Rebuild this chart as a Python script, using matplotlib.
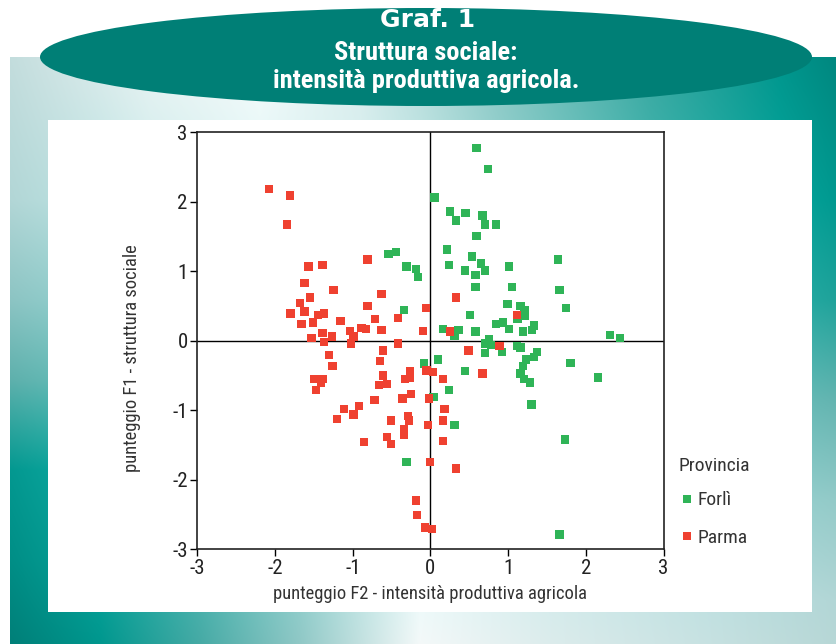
import numpy as np
import matplotlib
matplotlib.use("Agg")
import matplotlib.pyplot as plt
import matplotlib.font_manager as fm
from matplotlib.patches import Ellipse, Rectangle
from matplotlib.lines import Line2D
from matplotlib.colors import to_rgb

# ---------------- data ----------------
series_names = ["Forlì", "Parma"]
series_colors = ["#2fb457", "#ef4130"]

forli_x = [0.59, 0.74, 0.05, 0.25, 0.45, 0.33, 0.67, 0.70, 0.84, 0.59, 0.21, 0.53, 1.64, 0.24, 0.65,
           1.01, 0.44, 0.70, 0.58, 0.58, 1.05, 1.66, 1.74, 0.99, 1.16, 1.21, 1.21, 1.12, 0.51, 0.84,
           0.93, 1.01, 0.16, 0.36, 0.58, 1.19, 1.31, 1.33, 0.31, 0.75, 2.31, 2.44, -0.54, -0.44, -0.31,
           -0.19, -0.16, -0.34, -0.08, -0.31, 0.04, 0.70, 0.78, 0.70, 0.92, 1.11, 1.16, 1.37, 1.33,
           1.23, 1.19, 1.80, 1.16, 1.20, 1.28, 2.16, 0.10, 0.44, 0.24, 1.30, 0.31, 1.73, 1.66]
forli_y = [2.77, 2.47, 2.06, 1.86, 1.84, 1.73, 1.80, 1.67, 1.67, 1.51, 1.31, 1.21, 1.17, 1.09, 1.11,
           1.07, 1.01, 1.01, 0.95, 0.77, 0.77, 0.73, 0.47, 0.53, 0.50, 0.44, 0.36, 0.31, 0.37, 0.24,
           0.26, 0.17, 0.17, 0.15, 0.13, 0.13, 0.15, 0.22, 0.07, 0.02, 0.08, 0.04, 1.25, 1.28, 1.07,
           1.03, 0.92, 0.44, -0.33, -1.75, -0.81, -0.04, -0.06, -0.18, -0.16, -0.08, -0.10, -0.16, -0.23,
           -0.27, -0.36, -0.32, -0.47, -0.55, -0.60, -0.53, -0.27, -0.44, -0.71, -0.92, -1.21, -1.42, -2.79]

parma_x = [-2.08, -1.81, -1.85, -1.57, -1.39, -0.81, -1.62, -1.25, -0.63, -1.55, -1.68, -0.81, -0.06,
           -0.42, -1.80, -1.62, -1.45, -1.37, -1.66, -1.51, -1.16, -0.71, -1.04, -0.89, -0.83, -0.63,
           -0.10, -1.39, -1.27, -1.53, -0.99, 0.33, 1.11, 0.25, -1.37, -1.02, -0.42, -0.61, -1.31, -1.26,
           -0.65, -0.05, 0.03, -1.50, -1.39, -1.41, -1.47, -0.61, -0.26, -0.26, -0.33, -0.66, -0.56,
           -0.36, -0.25, -0.02, -0.72, -0.92, -1.11, -0.99, -1.20, -0.51, -0.29, -0.28, -0.03, -0.34,
           -0.34, -0.56, -0.51, -0.86, -0.01, -0.19, -0.17, -0.07, 0.02, 0.49, 0.89, 0.16, 0.67, 0.18,
           0.16, 0.16, 0.33]
parma_y = [2.18, 2.09, 1.67, 1.07, 1.09, 1.17, 0.83, 0.73, 0.67, 0.62, 0.54, 0.50, 0.47, 0.33, 0.39,
           0.42, 0.37, 0.39, 0.24, 0.26, 0.28, 0.31, 0.14, 0.18, 0.17, 0.15, 0.14, 0.11, 0.06, 0.04,
           0.06, 0.62, 0.37, 0.13, -0.02, -0.04, -0.04, -0.14, -0.21, -0.36, -0.29, -0.43, -0.45, -0.55,
           -0.55, -0.61, -0.71, -0.50, -0.44, -0.54, -0.55, -0.64, -0.62, -0.83, -0.77, -0.83, -0.85,
           -0.94, -0.98, -1.06, -1.13, -1.15, -1.08, -1.15, -1.21, -1.27, -1.35, -1.39, -1.49, -1.46,
           -1.75, -2.30, -2.51, -2.69, -2.71, -0.14, -0.08, -0.55, -0.47, -0.98, -1.15, -1.44, -1.84]

tick_values = [-3, -2, -1, 0, 1, 2, 3]
title_lines = ["Graf. 1", "Struttura sociale:", "intensità produttiva agricola."]
x_label = "punteggio F2 - intensità produttiva agricola"
y_label = "punteggio F1 - struttura sociale"
legend_title = "Provincia"


# ---------------- fonts: look for a narrow sans, else Roboto ----------------
def _wnum(w):
    if isinstance(w, (int, float)):
        return w
    return {"bold": 700, "heavy": 800, "black": 900, "semibold": 600, "demibold": 600,
            "medium": 500}.get(str(w).lower(), 400)


def find_narrow(bold):
    hits = []
    for f in fm.fontManager.ttflist:
        key = (f.name + " " + f.fname).lower()
        narrow = ("narrow" in key or "condensed" in key or "cond" in str(f.stretch).lower())
        if not narrow or "mono" in key or "serif" in f.name.lower() or f.style != "normal":
            continue
        if "semicondensed" in key or "semi" in str(f.stretch).lower():
            continue
        isb = _wnum(f.weight) >= 600
        if isb == bold:
            hits.append(f)
    if not hits:
        return None
    hits.sort(key=lambda f: (0 if "liberation" in f.name.lower() else 1 if "roboto" in f.name.lower() else 2,
                             abs(_wnum(f.weight) - (700 if bold else 400))))
    return hits[0].fname


_reg = find_narrow(False)
_bold = find_narrow(True)


def fp(size, bold=False):
    path = _bold if bold else _reg
    if path:
        return fm.FontProperties(fname=path, size=size)
    return fm.FontProperties(family=["Roboto", "DejaVu Sans"], size=size,
                             weight="bold" if bold else "normal")


# ---------------- figure ----------------
W, H = 837, 644
fig = plt.figure(figsize=(W / 100, H / 100), dpi=100)
fig.patch.set_facecolor("white")

bg = fig.add_axes([0, 0, 1, 1])
bg.axis("off")

# decorative gradient frame (Coons blend of the four border gradients)
gx0, gy0 = 10, 57
top_stops = [(10, "#c3dddd"), (150, "#e9f3f3"), (260, "#f6fbfb"), (360, "#dcecec"),
             (500, "#8cc6c3"), (650, "#3aa7a0"), (780, "#00968d"), (837, "#00877f")]
bot_stops = [(10, "#007f78"), (100, "#00978e"), (200, "#46aaa5"), (300, "#90c8c6"),
             (420, "#f4f9f9"), (550, "#dcecec"), (700, "#c8e2e2"), (837, "#b7d7d6")]
left_stops = [(57, "#c3dddd"), (200, "#b2d6d6"), (300, "#8cc4c3"), (380, "#5eb0ac"),
              (430, "#2aa39c"), (470, "#039890"), (560, "#008e86"), (644, "#007f78")]
right_stops = [(57, "#00877f"), (200, "#009990"), (300, "#1fa29a"), (400, "#63b4b0"),
               (500, "#93cac8"), (600, "#b2d6d6"), (644, "#b7d7d6")]


def ramp(stops, t):
    pos = np.array([s[0] for s in stops], float)
    cols = np.array([to_rgb(s[1]) for s in stops])
    return np.stack([np.interp(t, pos, cols[:, k]) for k in range(3)], axis=-1)


xs = np.arange(gx0, W) + 0.5
ys = np.arange(gy0, H) + 0.5
u = ((xs - gx0) / (W - gx0))[None, :, None]
v = ((ys - gy0) / (H - gy0))[:, None, None]
Tx = ramp(top_stops, xs)[None, :, :]
Bx = ramp(bot_stops, xs)[None, :, :]
Ly = ramp(left_stops, ys)[:, None, :]
Ry = ramp(right_stops, ys)[:, None, :]
c00 = np.array(to_rgb(top_stops[0][1]))
c10 = np.array(to_rgb(top_stops[-1][1]))
c01 = np.array(to_rgb(bot_stops[0][1]))
c11 = np.array(to_rgb(bot_stops[-1][1]))
img = ((1 - v) * Tx + v * Bx + (1 - u) * Ly + u * Ry
       - ((1 - u) * (1 - v) * c00 + u * (1 - v) * c10 + (1 - u) * v * c01 + u * v * c11))
img = np.clip(img, 0, 1)
bg.imshow(img, extent=(gx0, W, H, gy0), origin="upper", interpolation="bilinear",
          zorder=0, aspect="auto")
bg.set_xlim(0, W)
bg.set_ylim(H, 0)

bg.add_patch(Rectangle((48, 120), 764, 492, facecolor="white", edgecolor="none", zorder=1))
bg.add_patch(Ellipse((426, 57), 772, 98, facecolor="#007f76", edgecolor="none", zorder=2))

bg.text(428, 20, title_lines[0], color="white", fontsize=18, fontweight="bold",
        family=["DejaVu Sans"], ha="center", va="center", zorder=3)
bg.text(426, 53, title_lines[1], color="white", fontproperties=fp(19, bold=True),
        ha="center", va="center", zorder=3)
bg.text(426, 81, title_lines[2], color="white", fontproperties=fp(19, bold=True),
        ha="center", va="center", zorder=3)

# ---------------- scatter axes ----------------
L, R, T, B = 197.4, 663.6, 132.2, 549.2
ax = fig.add_axes([L / W, (H - B) / H, (R - L) / W, (B - T) / H])
ax.set_facecolor("white")
ax.scatter(forli_x, forli_y, marker="s", s=36, color=series_colors[0], edgecolors="none", zorder=3)
ax.scatter(parma_x, parma_y, marker="s", s=36, color=series_colors[1], edgecolors="none", zorder=3)
ax.axhline(0, color="black", lw=1.0, zorder=2)
ax.axvline(0, color="black", lw=1.0, zorder=2)
ax.set_xlim(-3, 3)
ax.set_ylim(-3, 3)
ax.set_xticks(tick_values)
ax.set_yticks(tick_values)
ax.set_xticklabels([str(v) for v in tick_values], fontproperties=fp(15))
ax.set_yticklabels([str(v) for v in tick_values], fontproperties=fp(15))
ax.tick_params(direction="out", length=5, width=1, color="black", pad=2, labelcolor="#222222")
for sp in ax.spines.values():
    sp.set_color("#222222")
    sp.set_linewidth(1.2)
ax.set_xlabel(x_label, fontproperties=fp(13.3), color="#333333", labelpad=5)
ax.set_ylabel(y_label, fontproperties=fp(13.3), color="#333333")
ax.yaxis.set_label_coords((141 - L) / (R - L), (B - 358) / (B - T))

handles = [Line2D([], [], marker="s", linestyle="none", markersize=6, color=c,
                  markeredgewidth=0) for c in series_colors]
leg = ax.legend(handles, series_names, title=legend_title, loc="upper left",
                bbox_to_anchor=(671 / W, 1 - 449 / H), bbox_transform=fig.transFigure,
                frameon=False, prop=fp(14), title_fontproperties=fp(14),
                labelspacing=1.0, handletextpad=0.15, handlelength=0.8, borderaxespad=0)
leg._legend_box.align = "left"
leg._legend_box.sep = 12
for t in leg.get_texts():
    t.set_color("#333333")
leg.get_title().set_color("#333333")

fig.savefig("out.png", dpi=100)
